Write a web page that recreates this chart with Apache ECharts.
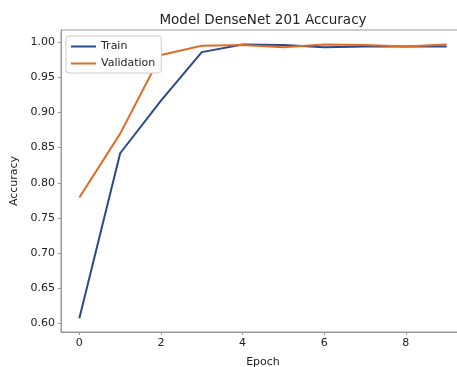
<!DOCTYPE html>
<html><head><meta charset="utf-8">
<script src="https://cdn.jsdelivr.net/npm/echarts@6/dist/echarts.min.js"></script>
<style>html,body{margin:0;padding:0;background:#fff}#c{width:457px;height:367px}</style>
</head><body><div id="c"></div>
<script>
const epochs = [0,1,2,3,4,5,6,7,8,9];
const train = [0.607,0.842,0.917,0.986,0.997,0.996,0.993,0.994,0.994,0.994];
const validation = [0.779,0.870,0.982,0.995,0.996,0.993,0.997,0.996,0.994,0.997];
const xTicks = [0,2,4,6,8];
const yTicks = [0.60,0.65,0.70,0.75,0.80,0.85,0.90,0.95,1.00];
const FONT = 'DejaVu Sans';
const chart = echarts.init(document.getElementById('c'));
chart.setOption({
  animation:false,
  title:{text:'Model DenseNet 201 Accuracy',left:258,top:8,textAlign:'center',
    textStyle:{fontFamily:FONT,fontSize:13.5,fontWeight:'normal',color:'#222'}},
  legend:{orient:'vertical',left:66,top:36,itemWidth:25,itemHeight:2,itemGap:6,icon:'rect',
    backgroundColor:'#fff',borderColor:'#ccc',borderWidth:1,borderRadius:3,padding:[5,6,4,5],
    textStyle:{fontFamily:FONT,fontSize:11,color:'#222'},data:['Train','Validation']},
  grid:{left:61,top:30,width:404,height:302,show:true,borderColor:'#999',borderWidth:1,
    containLabel:false,outerBoundsMode:'none'},
  xAxis:{type:'value',min:-0.45,max:9.45,name:'Epoch',nameLocation:'middle',nameGap:25,
    nameTextStyle:{fontFamily:FONT,fontSize:11,color:'#222'},
    axisLine:{onZero:false,lineStyle:{color:'#999'}},
    axisTick:{customValues:xTicks,length:3,lineStyle:{color:'#999'}},
    axisLabel:{customValues:xTicks,fontFamily:FONT,fontSize:11,color:'#222',margin:6},
    splitLine:{show:false}},
  yAxis:{type:'value',min:0.5875,max:1.0175,name:'Accuracy',nameLocation:'middle',nameGap:38,
    nameTextStyle:{fontFamily:FONT,fontSize:11,color:'#222'},
    axisLine:{show:true,onZero:false,lineStyle:{color:'#999'}},
    axisTick:{show:true,customValues:yTicks,length:3,lineStyle:{color:'#999'}},
    axisLabel:{customValues:yTicks,fontFamily:FONT,fontSize:11,color:'#222',margin:6,
      formatter:v=>v.toFixed(2)},
    splitLine:{show:false}},
  series:[
    {name:'Train',type:'line',data:epochs.map((e,i)=>[e,train[i]]),showSymbol:false,
      lineStyle:{color:'#2a4a8c',width:2},itemStyle:{color:'#2a4a8c'}},
    {name:'Validation',type:'line',data:epochs.map((e,i)=>[e,validation[i]]),showSymbol:false,
      lineStyle:{color:'#de6c26',width:2},itemStyle:{color:'#de6c26'}}
  ]
});
</script></body></html>
